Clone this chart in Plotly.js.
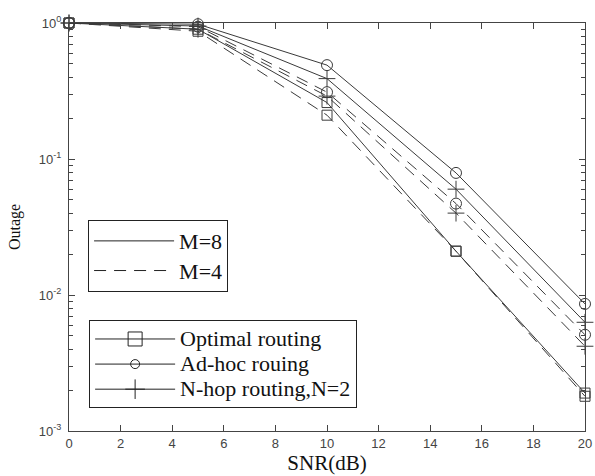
<!DOCTYPE html>
<html>
<head>
<meta charset="utf-8">
<script src="https://cdn.plot.ly/plotly-3.0.1.min.js"></script>
<style>html,body{margin:0;padding:0;background:#fff;}#chart{width:595px;height:476px;}</style>
</head>
<body>
<div id="chart"></div>
<script>
// SNR values (dB)
const snr = [0, 5, 10, 15, 20];
// M = 8 (solid)
const optimalM8 = [1.0, 0.90, 0.26, 0.021, 0.0019];
const adhocM8   = [1.0, 0.98, 0.49, 0.079, 0.0086];
const nhopM8    = [1.0, 0.95, 0.39, 0.060, 0.0063];
// M = 4 (dashed)
const optimalM4 = [1.0, 0.87, 0.21, 0.021, 0.0018];
const adhocM4   = [1.0, 0.94, 0.31, 0.047, 0.0051];
const nhopM4    = [1.0, 0.90, 0.29, 0.040, 0.0042];

const yTickVals = [1, 0.1, 0.01, 0.001];
const yTickText = ['10<sup>0</sup>', '10<sup>-1</sup>', '10<sup>-2</sup>', '10<sup>-3</sup>'];
const xTickVals = [0, 2, 4, 6, 8, 10, 12, 14, 16, 18, 20];

const lc = '#3a3a3a';
const DASH = '12px,8px';
const SERIF = 'Liberation Serif, Times New Roman, serif';
const big = s => '<span style="font-size:22px">' + s + '</span>';

function series(y, sym, dash, size) {
  return {x: snr, y: y, type: 'scatter', mode: 'lines+markers', showlegend: false, cliponaxis: false,
    line: {color: lc, width: 1, dash: dash},
    marker: {symbol: sym, size: size, color: lc, line: {color: lc, width: 1}}};
}

const data = [
  series(optimalM8, 'square-open', 'solid', 10),
  series(adhocM8, 'circle-open', 'solid', 11),
  series(nhopM8, 'cross-thin-open', 'solid', 12),
  series(optimalM4, 'square-open', DASH, 10),
  series(adhocM4, 'circle-open', DASH, 11),
  series(nhopM4, 'cross-thin-open', DASH, 12),
  // legend entries
  {x: [null], y: [null], type: 'scatter', mode: 'lines', name: big('M=8'), legend: 'legend',
    line: {color: '#222', width: 1}},
  {x: [null], y: [null], type: 'scatter', mode: 'lines', name: big('M=4'), legend: 'legend',
    line: {color: '#222', width: 1, dash: DASH}},
  {x: [null], y: [null], type: 'scatter', mode: 'lines+markers', name: big('Optimal routing'), legend: 'legend2',
    line: {color: '#222', width: 1}, marker: {symbol: 'square-open', size: 14, color: '#222'}},
  {x: [null], y: [null], type: 'scatter', mode: 'lines+markers', name: big('Ad-hoc rouing'), legend: 'legend2',
    line: {color: '#222', width: 1}, marker: {symbol: 'circle-open', size: 9, color: '#222'}},
  {x: [null], y: [null], type: 'scatter', mode: 'lines+markers', name: big('N-hop routing,N=2'), legend: 'legend2',
    line: {color: '#222', width: 1}, marker: {symbol: 'cross-thin-open', size: 14, color: '#222'}}
];

const axisCommon = {
  showgrid: false, zeroline: false, showline: true, linecolor: '#444', linewidth: 1,
  mirror: 'ticks', ticks: 'inside', tickcolor: '#444', ticklen: 6,
  tickfont: {family: 'Liberation Sans, Arial, sans-serif', size: 13, color: '#444'}
};

const layout = {
  width: 595, height: 476,
  margin: {l: 69, r: 10, t: 23, b: 45},
  paper_bgcolor: '#fff', plot_bgcolor: '#fff',
  xaxis: Object.assign({}, axisCommon, {
    range: [0, 20], tickmode: 'array', tickvals: xTickVals,
    title: {text: 'SNR(dB)', standoff: 0, font: {family: SERIF, size: 21, color: '#111'}}
  }),
  yaxis: Object.assign({}, axisCommon, {
    type: 'log', range: [-3, 0], tickmode: 'array', tickvals: yTickVals, ticktext: yTickText,
    ticklabelstandoff: 4,
    minor: {ticks: 'inside', ticklen: 4, tickcolor: '#444', dtick: 'D1'},
    title: {text: 'Outage', standoff: 14, font: {family: SERIF, size: 16, color: '#111'}}
  }),
  legend: {
    x: 0.037, y: 0.517, xanchor: 'left', yanchor: 'top',
    bgcolor: '#fff', bordercolor: '#222', borderwidth: 1,
    font: {family: SERIF, size: 20.5, color: '#111'},
    itemwidth: 80, tracegroupgap: 0
  },
  legend2: {
    x: 0.039, y: 0.271, xanchor: 'left', yanchor: 'top',
    bgcolor: '#fff', bordercolor: '#222', borderwidth: 1,
    font: {family: SERIF, size: 17, color: '#111'},
    itemwidth: 80, tracegroupgap: 0
  }
};

Plotly.newPlot('chart', data, layout, {staticPlot: true, displayModeBar: false});
</script>
</body>
</html>
